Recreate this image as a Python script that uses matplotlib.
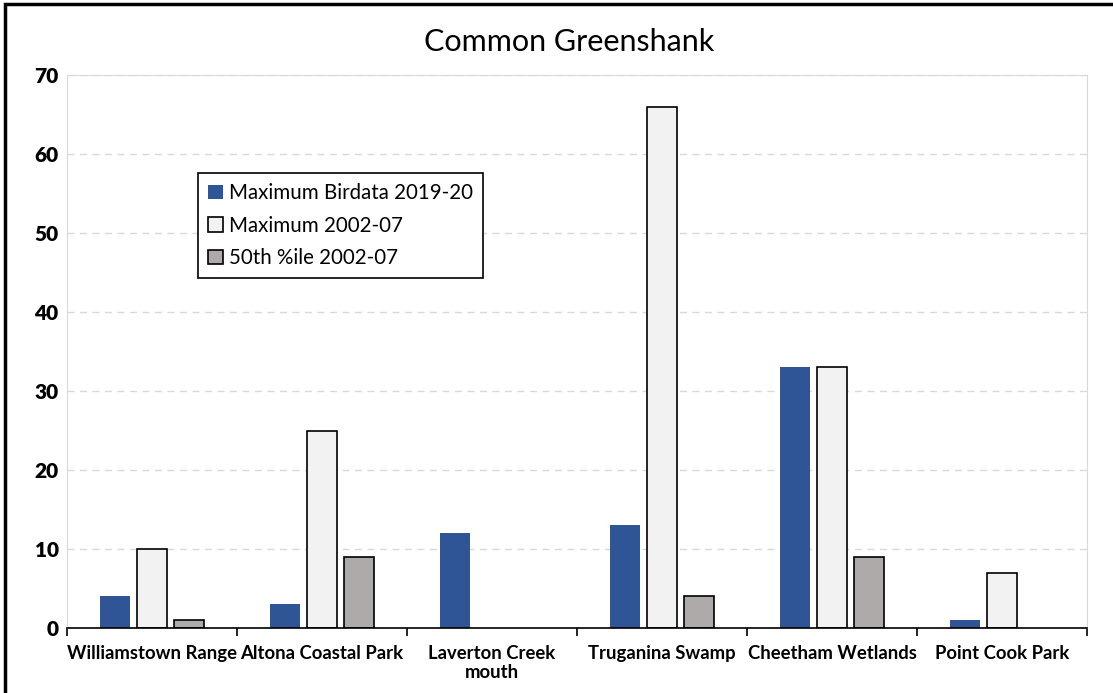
import matplotlib.pyplot as plt
import numpy as np
from matplotlib.patches import Rectangle

sites = ['Williamstown Range', 'Altona Coastal Park', 'Laverton Creek\nmouth',
         'Truganina Swamp', 'Cheetham Wetlands', 'Point Cook Park']
birdata_max = [4, 3, 12, 13, 33, 1]
max_0207 = [10, 25, np.nan, 66, 33, 7]
pct50_0207 = [1, 9, np.nan, 4, 9, np.nan]

plt.rcParams['font.family'] = ['Lato', 'DejaVu Sans']

fig = plt.figure(figsize=(11.13, 6.93), dpi=100)
ax = fig.add_axes([67/1113, 1-628/693, 1020/1113, 553/693])

x = np.arange(len(sites))
w = 0.18
off = 0.218
ax.bar(x-off, birdata_max, w, color='#2F5597', label='Maximum Birdata 2019-20', zorder=3)
ax.bar(x, max_0207, w, color='#F2F2F2', edgecolor='black', linewidth=1.2,
       label='Maximum 2002-07', zorder=3)
ax.bar(x+off, pct50_0207, w, color='#AEAAAA', edgecolor='black', linewidth=1.2,
       label='50th %ile 2002-07', zorder=3)

ax.set_xlim(-0.5, 5.5)
ax.set_ylim(0, 70)
ax.set_yticks(range(0, 71, 10))
ax.tick_params(axis='y', length=0, pad=6, labelsize=15)
for t in ax.get_yticklabels():
    t.set_fontweight('heavy')

ax.set_xticks(x)
ax.set_xticklabels(sites, fontweight='bold', fontsize=13.3, linespacing=1.15)
ax.tick_params(axis='x', which='major', length=0, pad=12)
ax.set_xticks(np.arange(-0.5, 6, 1), minor=True)
ax.tick_params(axis='x', which='minor', length=6, width=1.2, color='black')

ax.grid(axis='y', color='#D9D9D9', linestyle=(0, (5, 4)), linewidth=1, zorder=0)
for s in ['left', 'top', 'right']:
    ax.spines[s].set_color('#D9D9D9')
ax.spines['bottom'].set_color('black')
ax.spines['bottom'].set_linewidth(1.2)
ax.spines['bottom'].set_zorder(4)

fig.text(569/1113, 1-42/693, 'Common Greenshank', ha='center', va='center', fontsize=22)

leg = ax.legend(loc='upper left', bbox_to_anchor=((198-67)/1020, (628-173)/553),
                fontsize=14.8, fancybox=False, edgecolor='black', framealpha=1,
                handlelength=0.7, handleheight=0.7, handletextpad=0.3,
                labelspacing=0.6, borderpad=0.5, borderaxespad=0)
leg.get_frame().set_linewidth(1.2)

# outer border of the picture (left and top edges visible)
fig.patches.append(Rectangle((5/1113, -0.1), 1.2, 1-4/693+0.1, transform=fig.transFigure,
                             fill=False, edgecolor='black', linewidth=2.5))

fig.savefig('out.png', dpi=100)
